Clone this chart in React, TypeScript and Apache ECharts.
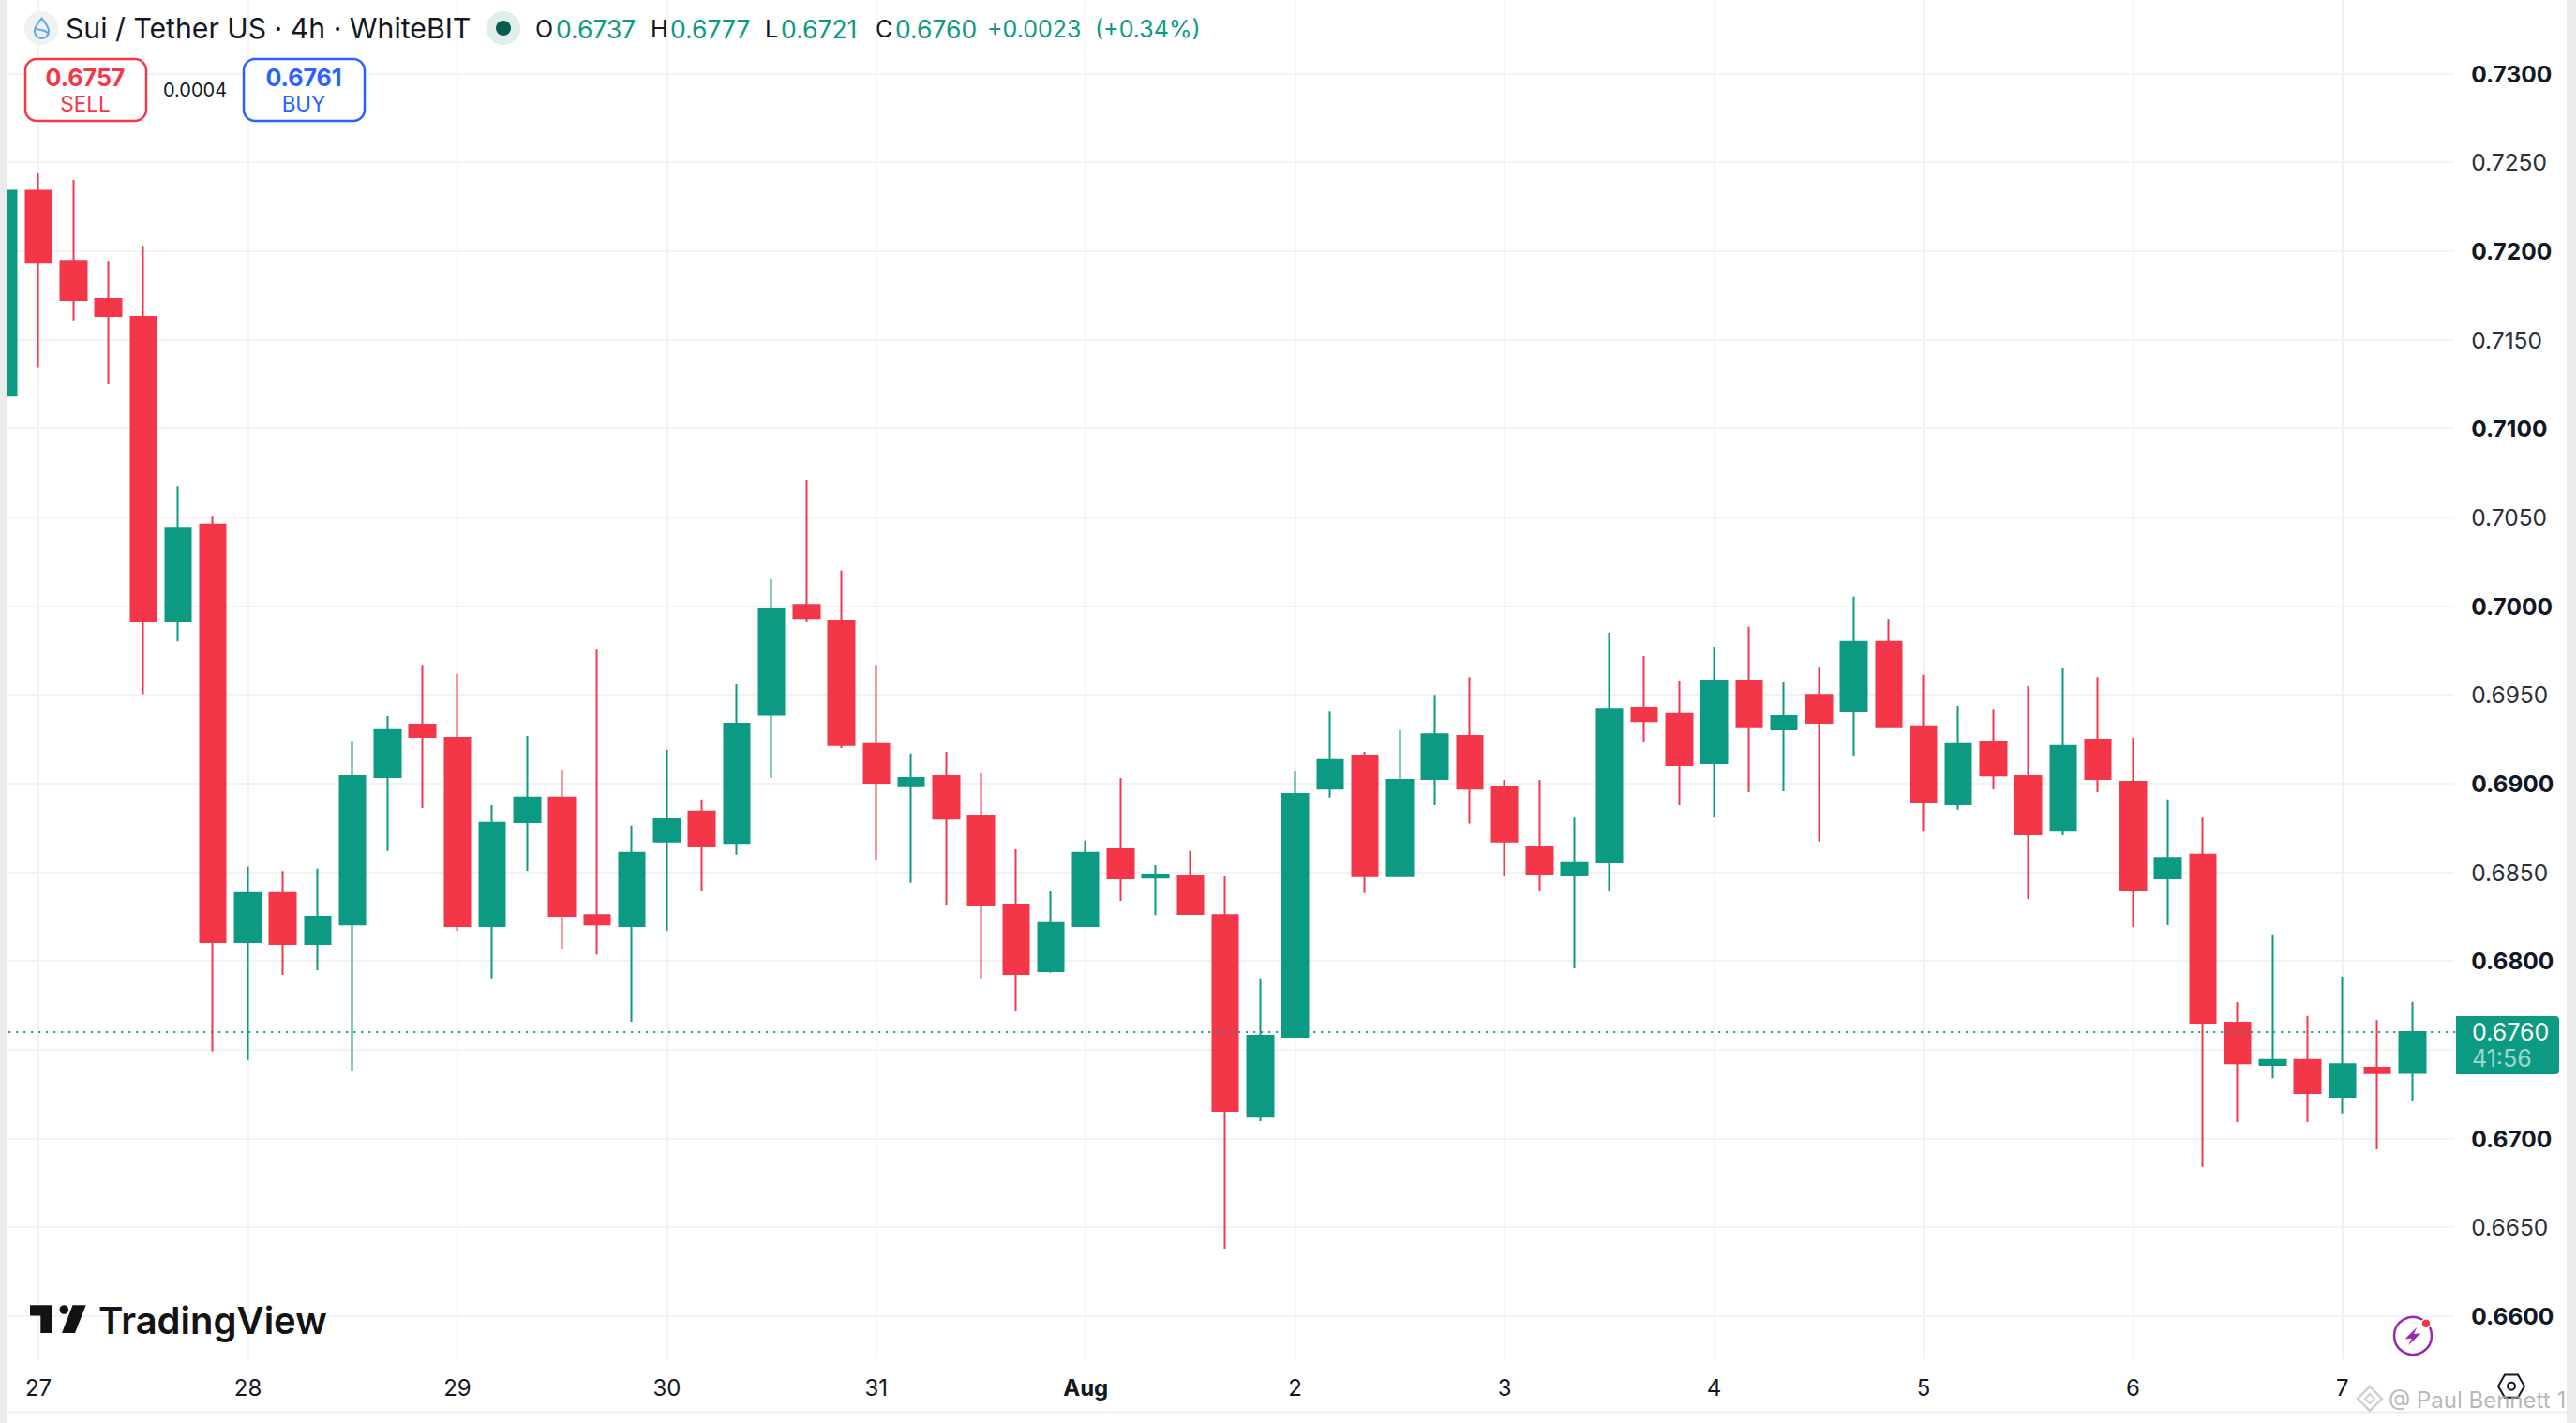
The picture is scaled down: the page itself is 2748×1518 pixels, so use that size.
import React, { useEffect, useRef } from "react";
import * as echarts from "echarts";

// candle values: first entry is the partly hidden candle at the left edge
const opens = [0.7119,0.7234,0.71945,0.7173,0.7163,0.69915,0.70458,0.68106,0.68382,0.68096,0.68206,0.69036,0.69332,0.69258,0.68196,0.68783,0.68921,0.68259,0.68196,0.68673,0.68842,0.68665,0.69388,0.70007,0.69918,0.69222,0.68985,0.69041,0.68819,0.68318,0.67943,0.68196,0.6863,0.6847,0.68482,0.68259,0.67123,0.67573,0.68972,0.69158,0.68477,0.69026,0.69268,0.6898,0.6864,0.68487,0.68556,0.69427,0.69391,0.69115,0.6958,0.69306,0.695,0.69406,0.69798,0.69322,0.68883,0.69237,0.69041,0.68734,0.69248,0.6901,0.68466,0.68599,0.67652,0.67414,0.67442,0.67235,0.67399,0.6737];
const closes = [0.7234,0.71935,0.71725,0.71635,0.69915,0.7044,0.68106,0.68382,0.68096,0.68249,0.69041,0.69301,0.69263,0.68196,0.68778,0.68921,0.68254,0.68206,0.68609,0.68798,0.68645,0.69337,0.69982,0.69933,0.69217,0.69005,0.69031,0.68803,0.68313,0.67927,0.68213,0.68609,0.68466,0.68487,0.68265,0.67156,0.67578,0.68941,0.69133,0.68477,0.6902,0.69278,0.68972,0.68673,0.68492,0.68551,0.69421,0.69352,0.69105,0.6958,0.69317,0.6938,0.69342,0.69798,0.69317,0.68893,0.69222,0.69046,0.68714,0.69212,0.69026,0.68402,0.68581,0.67652,0.67424,0.67442,0.67256,0.67419,0.67368,0.676];
const lows = [0.711,0.71341,0.7161,0.71249,0.69503,0.698,0.67491,0.67442,0.67922,0.67948,0.67378,0.6862,0.68862,0.6817,0.67902,0.68507,0.6807,0.68037,0.67657,0.6817,0.68392,0.68599,0.69031,0.69907,0.692,0.68571,0.68441,0.68318,0.67902,0.67721,0.67933,0.68196,0.68339,0.68259,0.6826,0.6638,0.67098,0.6757,0.68921,0.68382,0.68477,0.68877,0.68775,0.68482,0.68397,0.67958,0.68392,0.69232,0.68877,0.68808,0.68951,0.68957,0.68673,0.69158,0.69312,0.68729,0.68852,0.68967,0.68349,0.68709,0.68951,0.68191,0.68201,0.6684,0.67092,0.6734,0.67092,0.67141,0.66939,0.6721];
const highs = [0.724,0.72437,0.72401,0.71945,0.7203,0.70678,0.70509,0.6853,0.68507,0.6852,0.69237,0.6938,0.69669,0.69618,0.68877,0.69268,0.69079,0.69759,0.68763,0.69189,0.68911,0.69559,0.70151,0.70711,0.70199,0.69669,0.69169,0.69179,0.69059,0.6863,0.68392,0.68678,0.69031,0.6854,0.6862,0.68482,0.67902,0.69069,0.6941,0.69179,0.69301,0.695,0.696,0.6902,0.6902,0.68808,0.69849,0.69718,0.6958,0.6977,0.69882,0.6957,0.6966,0.70051,0.69928,0.69613,0.69437,0.69421,0.69549,0.69649,0.696,0.69258,0.68911,0.68808,0.67769,0.6815,0.6769,0.67912,0.67667,0.6777];

const dayLabels = ["27","28","29","30","31","Aug","2","3","4","5","6","7"];
const barsPerDay = 6;
const lastPrice = 0.676;
const priceMin = 0.655;
const priceMax = 0.735;
const priceStep = 0.005;
const hiddenPriceLabels = ["0.6550", "0.6750", "0.7350"];

const headerTitle = "Sui / Tether US · 4h · WhiteBIT";
const ohlc = [
  { k: "O", kx: 571, v: "0.6737", vx: 593 },
  { k: "H", kx: 694, v: "0.6777", vx: 715 },
  { k: "L", kx: 816, v: "0.6721", vx: 833 },
  { k: "C", kx: 934, v: "0.6760", vx: 955 },
];

const RED = "#F43649";
const GREEN = "#0C9A82";
const BLUE = "#2962FF";
const INK = "#131722";
const FONT = "Inter, 'Noto Sans', sans-serif";
const GRIDLINE = "#F3F3F3";

echarts.graphic.registerShape(
  "suiDrop",
  echarts.graphic.extendPath(
    "M44.5 19.5 C40.5 24.5 37 28.5 37 33 C37 38 40.5 41 44.5 41 C48.5 41 52 38 52 33 C52 28.5 48.5 24.5 44.5 19.5 Z M38 30 C42 33.5 46 30.5 51 35",
    {}
  )
);

const firstTickOffset = 1; // category index of the first day tick
const isDayTick = (i: number) => i >= firstTickOffset && (i - firstTickOffset) % barsPerDay === 0;
const categories = [...opens.map((_, i) => String(i)), ""];
const dayFor = (i: number) => dayLabels[(i - firstTickOffset) / barsPerDay] ?? "";

const txt = (x: number, y: number, text: string, font: string, fill: string, align = "left", z = 10) => ({
  type: "text",
  x,
  y,
  z,
  silent: true,
  style: { text, font, fill, align, verticalAlign: "middle" },
});

function buildOption(): any {
  const bandW = 37.24;
  const left = -14.82;
  const width = bandW * categories.length;
  const top = -16.16;
  const height = 1514.66;
  const common = { type: "category", boundaryGap: true, data: categories };

  const graphicElements: any[] = [
    // masks that end the grid lines where the panes end
    { type: "rect", z: 1, shape: { x: 2618, y: 0, width: 14, height: 1450 }, style: { fill: "#fff" } },
    { type: "rect", z: 1, shape: { x: 8, y: 1450, width: 2730, height: 56 }, style: { fill: "#fff" } },
    { type: "rect", z: 3, shape: { x: 8, y: 1505.5, width: 2730, height: 2 }, style: { fill: "#EEEEEE" } },
    { type: "rect", z: 20, shape: { x: 0, y: 0, width: 8, height: 1518 }, style: { fill: "#EBEBEB" } },
    { type: "rect", z: 20, shape: { x: 2738, y: 0, width: 10, height: 1518 }, style: { fill: "#EBEBEB" } },

    // header
    { type: "circle", z: 10, shape: { cx: 44, cy: 30, r: 18 }, style: { fill: "#F0F1F3" } },
    { type: "suiDrop", z: 11, style: { fill: "none", stroke: "#5AA5F5", lineWidth: 2 } },
    txt(70, 30, headerTitle, `400 30.2px ${FONT}`, INK),
    { type: "circle", z: 10, shape: { cx: 537, cy: 30, r: 18 }, style: { fill: "#DFEEEC" } },
    { type: "circle", z: 11, shape: { cx: 537, cy: 30, r: 8 }, style: { fill: "#0B5C50" } },
    ...ohlc.flatMap((d) => [
      txt(d.kx, 31, d.k, `400 25px ${FONT}`, INK),
      txt(d.vx, 31, d.v, `400 26.5px ${FONT}`, GREEN),
    ]),
    txt(1053, 31, "+0.0023", `400 25px ${FONT}`, GREEN),
    txt(1168, 31, "(+0.34%)", `400 25px ${FONT}`, GREEN),

    // sell / buy
    { type: "rect", z: 10, shape: { x: 27, y: 63, width: 129, height: 66, r: 12 }, style: { fill: "#fff", stroke: RED, lineWidth: 2.5 } },
    txt(91, 83, "0.6757", `700 25px ${FONT}`, RED, "center"),
    txt(91, 110, "SELL", `400 22.5px ${FONT}`, RED, "center"),
    txt(208, 96, "0.0004", `400 20px ${FONT}`, INK, "center"),
    { type: "rect", z: 10, shape: { x: 260, y: 63, width: 129, height: 66, r: 12 }, style: { fill: "#fff", stroke: BLUE, lineWidth: 2.5 } },
    txt(324, 83, "0.6761", `700 25px ${FONT}`, BLUE, "center"),
    txt(324, 110, "BUY", `400 22.5px ${FONT}`, BLUE, "center"),

    // last price tag
    { type: "rect", z: 10, shape: { x: 2620, y: 1084, width: 110, height: 62, r: [0, 4, 4, 0] }, style: { fill: GREEN } },
    txt(2637, 1101, "0.6760", `400 25px ${FONT}`, "#FFFFFF"),
    txt(2637, 1129, "41:56", `400 25px ${FONT}`, "rgba(255,255,255,0.62)"),

    // logo
    { type: "polygon", z: 10, shape: { points: [[32, 1392.3], [56, 1392.3], [56, 1422], [43.3, 1422], [43.3, 1403.5], [32, 1403.5]] }, style: { fill: "#131313" } },
    { type: "circle", z: 10, shape: { cx: 68.3, cy: 1397, r: 4.8 }, style: { fill: "#131313" } },
    { type: "polygon", z: 10, shape: { points: [[77.5, 1392.3], [91.7, 1392.3], [80, 1422], [66, 1422]] }, style: { fill: "#131313" } },
    txt(105, 1408, "TradingView", `600 40px ${FONT}`, "#131313"),

    // lightning icon
    { type: "circle", z: 10, shape: { cx: 2574, cy: 1425, r: 20 }, style: { fill: "none", stroke: "#9C27B0", lineWidth: 2.5 } },
    { type: "polygon", z: 10, shape: { points: [[2578.3, 1415.7], [2565.7, 1428.3], [2572.7, 1427.7], [2569.3, 1435], [2582.3, 1422.3], [2575, 1423]] }, style: { fill: "#9C27B0" } },
    { type: "circle", z: 11, shape: { cx: 2588, cy: 1411.7, r: 5 }, style: { fill: RED, stroke: "#fff", lineWidth: 1.5 } },

    // settings hexagon
    { type: "polygon", z: 10, shape: { points: [[2665, 1478.7], [2672, 1466.5], [2686, 1466.5], [2693, 1478.7], [2686, 1490.8], [2672, 1490.8]] }, style: { fill: "none", stroke: "#131722", lineWidth: 2 } },
    { type: "circle", z: 10, shape: { cx: 2679, cy: 1478.7, r: 4 }, style: { fill: "none", stroke: "#131722", lineWidth: 2 } },

    // watermark
    { type: "polygon", z: 12, shape: { points: [[2528, 1479], [2541, 1492], [2528, 1505], [2515, 1492]] }, style: { fill: "none", stroke: "rgba(190,190,190,0.7)", lineWidth: 2.5 } },
    { type: "polygon", z: 12, shape: { points: [[2528, 1487], [2533, 1492], [2528, 1497], [2523, 1492]] }, style: { fill: "none", stroke: "rgba(190,190,190,0.7)", lineWidth: 2 } },
    txt(2548, 1493, "@ Paul Bennett 1", `400 24px ${FONT}`, "rgba(165,165,165,0.8)", "left", 12),
  ];

  return {
    animation: false,
    backgroundColor: "#FFFFFF",
    textStyle: { fontFamily: FONT },
    grid: [
      { left, top, width, height, containLabel: false, outerBoundsMode: "none" },
      { left, top: 1450, width, height: 8, containLabel: false, outerBoundsMode: "none" },
    ],
    xAxis: [
      {
        ...common,
        gridIndex: 0,
        axisLine: { show: false },
        axisTick: { show: false },
        axisLabel: { show: false },
        splitLine: {
          show: true,
          alignWithLabel: true,
          interval: (i: number) => isDayTick(i),
          lineStyle: { color: GRIDLINE, width: 2 },
        },
      },
      {
        ...common,
        gridIndex: 1,
        z: 5,
        axisLine: { show: false },
        axisTick: { show: false },
        splitLine: { show: false },
        axisLabel: {
          show: true,
          margin: 10,
          interval: (i: number) => isDayTick(i),
          formatter: (_: string, i: number) => {
            const d = dayFor(i);
            return d === "Aug" ? `{b|${d}}` : `{n|${d}}`;
          },
          rich: {
            n: { fontFamily: FONT, fontSize: 24, fontWeight: 400, color: INK },
            b: { fontFamily: FONT, fontSize: 24, fontWeight: 700, color: INK },
          },
        },
      },
    ],
    yAxis: [
      {
        type: "value",
        gridIndex: 0,
        position: "right",
        min: priceMin,
        max: priceMax,
        interval: priceStep,
        scale: true,
        axisLine: { show: false },
        axisTick: { show: false },
        splitLine: { show: true, lineStyle: { color: GRIDLINE, width: 2 } },
        axisLabel: {
          show: true,
          margin: 7,
          formatter: (v: number) => {
            const s = v.toFixed(4);
            if (hiddenPriceLabels.includes(s)) return "";
            const bold = Math.round(v * 1000) % 10 === 0;
            return `{${bold ? "b" : "n"}|${s}}`;
          },
          rich: {
            n: { fontFamily: FONT, fontSize: 24.5, fontWeight: 400, color: "#2A2E39" },
            b: { fontFamily: FONT, fontSize: 24.5, fontWeight: 700, color: "#131722" },
          },
        },
      },
      { type: "value", gridIndex: 1, show: false },
    ],
    series: [
      {
        type: "candlestick",
        xAxisIndex: 0,
        yAxisIndex: 0,
        barWidth: 28,
        itemStyle: {
          color: GREEN,
          borderColor: GREEN,
          color0: RED,
          borderColor0: RED,
          borderWidth: 2,
        },
        data: opens.map((o, i) => [o, closes[i], lows[i], highs[i]]),
        markLine: {
          silent: true,
          symbol: "none",
          precision: 4,
          label: { show: false },
          lineStyle: { color: GREEN, type: [2, 6], width: 2 },
          data: [{ yAxis: lastPrice }],
        },
      },
    ],
    graphic: { elements: graphicElements },
  };
}

export default function App() {
  const ref = useRef<HTMLDivElement>(null);
  useEffect(() => {
    document.body.style.margin = "0";
    const chart = echarts.init(ref.current!, undefined, { renderer: "svg" });
    chart.setOption(buildOption());
    return () => chart.dispose();
  }, []);
  return <div ref={ref} style={{ width: 2748, height: 1518, background: "#fff" }} />;
}
